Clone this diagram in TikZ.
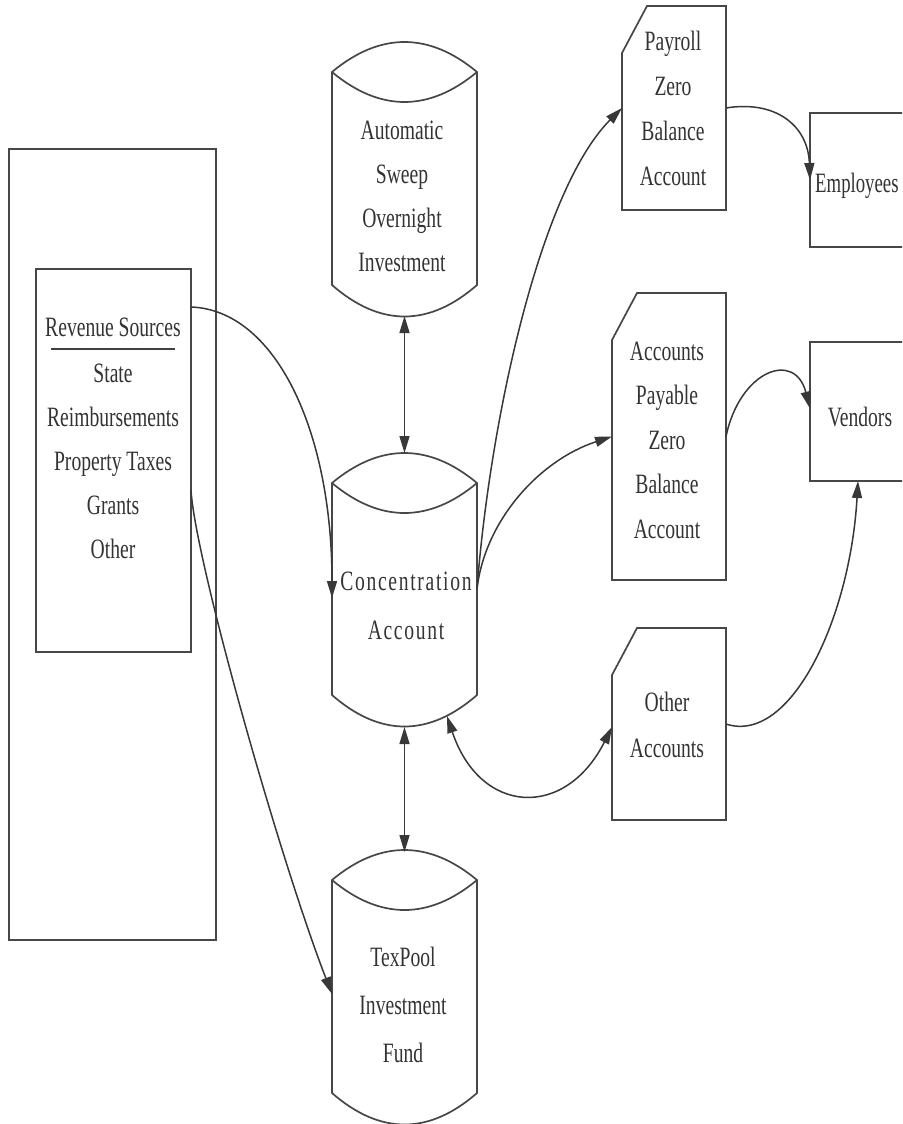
\documentclass[tikz,border=0pt]{standalone}
\usepackage{fontspec}
\usetikzlibrary{arrows.meta}
\newfontfamily\nar[FakeStretch=0.7]{Liberation Serif}
\newfontfamily\narsp[FakeStretch=0.7,LetterSpace=6]{Liberation Serif}
\newfontfamily\narrow[FakeStretch=0.67]{Liberation Serif}
% #1 = family, #2 = line pitch
\newcommand\lbl[2]{#1\fontsize{28}{#2}\selectfont}

% outline of a drum (disk storage) around a body node
\newcommand\drumoutline[1]{%
  \draw[frame] (#1.north west) -- (#1.south west)
    .. controls +(48pt,-42pt) and +(-48pt,-42pt) .. (#1.south east)
    -- (#1.north east)
    .. controls +(-48pt,40pt) and +(48pt,40pt) .. (#1.north west)
    .. controls +(48pt,-40pt) and +(-48pt,-40pt) .. (#1.north east);}
% outline of a card with a clipped upper-left corner
\newcommand\cardoutline[1]{%
  \draw[frame] ([yshift=-47pt]#1.north west) -- ([xshift=25pt]#1.north west)
    -- (#1.north east) -- (#1.south east) -- (#1.south west) -- cycle;}

\tikzset{
  frame/.style={draw=black!72, line width=1.7pt, line join=miter},
  body/.style={shape=rectangle, inner sep=0pt, outer sep=0pt},
  box/.style={body, frame},
  tip/.tip={Triangle[length=17pt,width=10pt]},
  link/.style={draw=black!78, line width=1.5pt, -tip},
  twoway/.style={draw=black!78, line width=1.5pt, tip-tip},
  txt/.style={inner sep=0pt, anchor=north, align=center, text=black!80},
  word/.style={inner sep=0pt, text=black!80},
}

\begin{document}
\begin{tikzpicture}[x=1pt,y=-1pt]
\useasboundingbox (0,0) rectangle (902,1124);
\fill[white] (0,0) rectangle (902,1124);
\clip (0,0) rectangle (902,1124);

% revenue panel
\node[box, minimum width=207pt, minimum height=791pt] (outer) at (112.5,544.5) {};
\node[box, minimum width=155pt, minimum height=383pt] (inner) at (113.5,460.5) {};
\node[word, anchor=base, font=\lbl\nar{44}] (rev-h) at (113,336) {Revenue Sources};
\draw[draw=black!75, line width=2pt]
  ([xshift=6pt,yshift=-13pt]rev-h.base west) -- ([xshift=-6pt,yshift=-13pt]rev-h.base east);
\node[txt, font=\lbl\nar{44}] (rev-l) at (113,351.2)
  {\strut State\\Reimbursements\\Property Taxes\\Grants\\Other};

% drums
\node[body, minimum width=145pt, minimum height=213pt] (auto) at (404.5,178.5) {};
\drumoutline{auto}
\node[txt, font=\lbl\nar{44}] (auto-t) at (402,108.2)
  {\strut Automatic\\Sweep\\Overnight\\Investment};

\node[body, minimum width=145pt, minimum height=212pt] (conc) at (404.5,589) {};
\drumoutline{conc}
\node[txt, font=\lbl\narsp{49}] (conc-t) at (406,555.7) {\strut Concentration\\Account};

\node[body, minimum width=145pt, minimum height=213pt] (tex) at (404.5,986.5) {};
\drumoutline{tex}
\node[txt, font=\lbl\nar{48}] (tex-t) at (403,932.4) {\strut TexPool\\Investment\\Fund};

% zero balance and other accounts
\node[body, minimum width=104pt, minimum height=204pt] (payroll) at (674,108) {};
\cardoutline{payroll}
\node[txt, font=\lbl\nar{45}] (payroll-t) at (673,18.5) {\strut Payroll\\Zero\\Balance\\Account};

\node[body, minimum width=114pt, minimum height=287pt] (ap) at (669,436.5) {};
\cardoutline{ap}
\node[txt, font=\lbl\nar{44.5}] (ap-t) at (667,328.9)
  {\strut Accounts\\Payable\\Zero\\Balance\\Account};

\node[body, minimum width=114pt, minimum height=192pt] (other) at (669,724) {};
\cardoutline{other}
\node[txt, font=\lbl\nar{46}] (other-t) at (667,678.8) {\strut Other\\Accounts};

% payees
\node[box, minimum width=102pt, minimum height=134pt] (emp) at (861,180) {};
\node[word, anchor=base west, font=\lbl\narrow{44}] (emp-t) at (815,192) {Employees};
\node[box, minimum width=102pt, minimum height=139pt] (vend) at (861,411.5) {};
\node[word, anchor=base, font=\lbl\nar{44}] (vend-t) at (860,426) {Vendors};

% money flows
\draw[link] ([yshift=-38pt]inner.north east)
  .. controls (275,310) and (332,430) .. ([yshift=-9pt]conc.west);
\draw[link] ([yshift=-221pt]inner.north east)
  .. controls (195,560) and (280,860) .. ([yshift=-7.5pt]tex.west);
\draw[twoway] ([yshift=-31pt]auto.south) -- ([yshift=30pt]conc.north);
\draw[twoway] ([yshift=-32pt]conc.south) -- ([yshift=28pt]tex.north);
\draw[link] (conc.east) .. controls (490,420) and (540,190) .. (payroll.west);
\draw[link] (conc.east) .. controls (485,520) and (540,460) .. (ap.west);
\draw[twoway] ([xshift=42.5pt,yshift=-21pt]conc.south)
  .. controls (480,815) and (565,820) .. ([yshift=-3pt]other.west);
\draw[link] (payroll.east) .. controls (775,100) and (808,125) .. (emp.west);
\draw[link] (ap.east) .. controls (740,370) and (795,350) .. ([yshift=3pt]vend.west);
\draw[link] (other.east) .. controls (790,745) and (850,620) .. ([xshift=-3pt]vend.south);
\end{tikzpicture}
\end{document}
